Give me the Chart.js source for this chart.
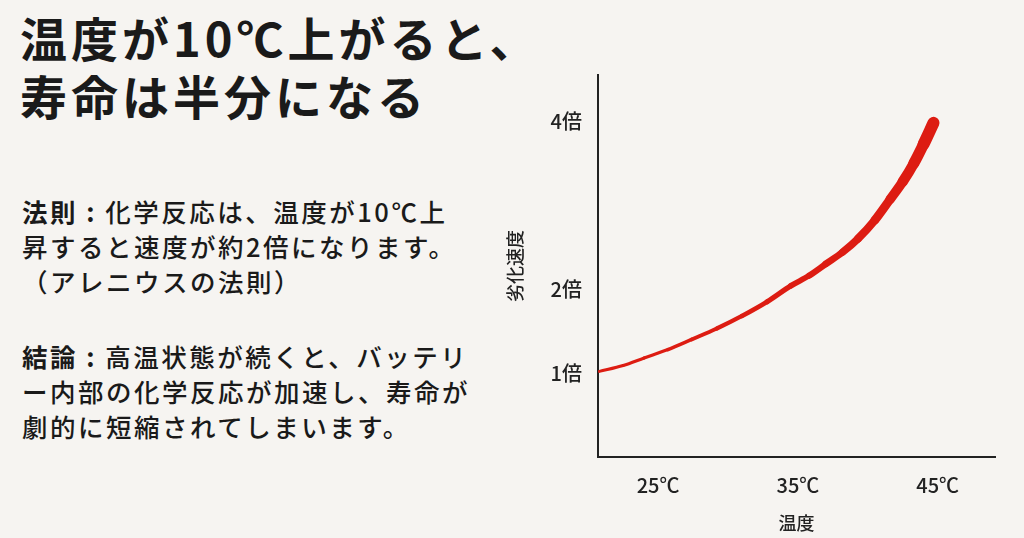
<!DOCTYPE html>
<html><head><meta charset="utf-8">
<script src="https://cdn.jsdelivr.net/npm/chart.js@4"></script>
<style>
body{margin:0;width:1024px;height:538px;background:#f6f4f1;font-family:"Noto Sans CJK JP",sans-serif;color:#1a1a1a;overflow:hidden;position:relative}
#t{position:absolute;left:20px;top:8px;font-size:47px;font-weight:700;line-height:58px;letter-spacing:4px}
.p{position:absolute;left:22px;font-size:25.5px;line-height:35px;font-weight:500;letter-spacing:2.5px}
#w{position:absolute;left:500px;top:55px;width:510px;height:483px}
</style></head><body>
<div id="t">温度が10℃上がると、<br>寿命は半分になる</div>
<div class="p" style="top:193px"><b>法則 :</b> 化学反応は、温度が10℃上<br>昇すると速度が約2倍になります。<br>（アレニウスの法則）</div>
<div class="p" style="top:338px"><b>結論 :</b> 高温状態が続くと、バッテリ<br>ー内部の化学反応が加速し、寿命が<br>劇的に短縮されてしまいます。</div>
<div id="w"><canvas id="c"></canvas></div>
<script>
const temps=[20.8,22.5,24,25.7,27.4,29.2,31,32.8,34.5,35.8,37,38.2,39.3,40.5,41.6,42.5,43.3,44.0,44.7];
const speeds=[1.02,1.09,1.18,1.28,1.40,1.53,1.68,1.85,2.04,2.16,2.30,2.44,2.60,2.82,3.07,3.28,3.50,3.73,3.98];
const yTicks=[1,2,4];
const yTickLabels={1:"1倍",2:"2倍",4:"4倍"};
const xTicks=[25,35,45];
const n=temps.length;
new Chart(document.getElementById('c'),{
type:'line',
data:{datasets:[{data:temps.map((t,i)=>({x:t,y:speeds[i]})),borderColor:'#dd1c12',borderWidth:3,pointRadius:0,cubicInterpolationMode:'monotone',borderCapStyle:'round',borderJoinStyle:'round',
segment:{borderWidth:ctx=>3+9*Math.pow(ctx.p0DataIndex/(n-2),1.6)}}]},
options:{responsive:true,maintainAspectRatio:false,animation:false,
layout:{padding:{top:10,right:15}},
plugins:{legend:{display:false},tooltip:{enabled:false}},
scales:{
x:{type:'linear',min:20.7,max:49.1,afterBuildTicks:a=>{a.ticks=xTicks.map(v=>({value:v}))},
afterFit:a=>{a.height=81},
grid:{display:false},border:{color:'#222',width:2},
ticks:{callback:v=>v+'℃',color:'#222',font:{size:20,family:'Noto Sans CJK JP',weight:500},padding:8},
title:{display:true,text:'温度',color:'#222',font:{size:18,family:'Noto Sans CJK JP',weight:500},padding:{top:2}}},
y:{min:0,max:4.55,afterBuildTicks:a=>{a.ticks=yTicks.map(v=>({value:v}))},
afterFit:a=>{a.width=98},
grid:{display:false},border:{color:'#222',width:2},
ticks:{callback:v=>yTickLabels[v],color:'#222',font:{size:20,family:'Noto Sans CJK JP',weight:500},padding:8},
title:{display:true,text:'劣化速度',color:'#222',font:{size:18,family:'Noto Sans CJK JP',weight:500},padding:{bottom:6}}}
}}});
</script></body></html>
